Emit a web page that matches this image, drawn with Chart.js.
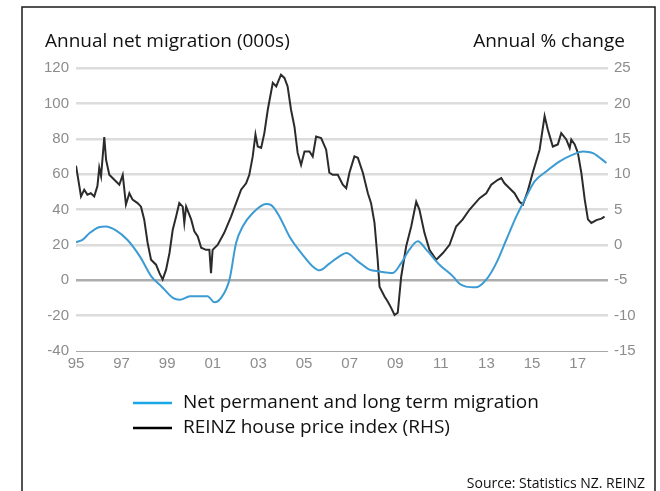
<!DOCTYPE html>
<html>
<head>
<meta charset="utf-8">
<script src="https://cdn.jsdelivr.net/npm/chart.js@4/dist/chart.umd.min.js"></script>
<style>
  html, body { margin: 0; padding: 0; background: #fff; }
  canvas { display: block; }
</style>
</head>
<body>
<canvas id="chart" width="660" height="491"></canvas>
<script>
// Net permanent and long term migration, annual (000s) – left axis
const migrationYears = [
  1995.0, 1995.3, 1995.6, 1996.0, 1996.3, 1996.75, 1997.25, 1997.8, 1998.3, 1998.75,
  1999.25, 1999.55, 2000.0, 2000.4, 2000.77, 2001.07, 2001.36, 2001.73, 2002.02, 2002.31,
  2002.75, 2003.34, 2003.56, 2003.92, 2004.36, 2004.94, 2005.38, 2005.68, 2006.11, 2006.55,
  2006.85, 2007.36, 2007.87, 2008.31, 2008.89, 2009.26, 2009.62, 2009.99, 2010.36, 2010.94,
  2011.53, 2011.82, 2012.1, 2012.55, 2012.99, 2013.43, 2013.87, 2014.31, 2014.75, 2015.11,
  2015.62, 2016.21, 2016.79, 2017.23, 2017.67, 2018.26
];
const migrationValues = [
  21.5, 23, 26.7, 30, 30.4, 28.2, 22.9, 13.5, 2.2, -3.5,
  -10, -11, -9.1, -9.1, -9, -12.5, -10, 0.3, 21, 30.4,
  38, 43.1, 42.5, 36.1, 24.8, 14.4, 7.8, 5.6, 9.4, 13.5,
  15.4, 10.7, 6, 5, 4.1, 9.7, 17.3, 22, 17.3, 8.8,
  2.2, -2, -3.6, -4, 0.3, 9.7, 22.9, 36.1, 47.4, 55.9,
  61.5, 67.2, 71, 72.8, 71.9, 66.3
];

// REINZ house price index, annual % change – right axis
const priceYears = [
  1995.0, 1995.22, 1995.36, 1995.5, 1995.65, 1995.8, 1995.94, 1996.02, 1996.1, 1996.24,
  1996.32, 1996.46, 1996.68, 1996.9, 1997.05, 1997.19, 1997.34, 1997.48, 1997.7, 1997.85,
  1997.99, 1998.14, 1998.29, 1998.51, 1998.66, 1998.8, 1998.95, 1999.1, 1999.24, 1999.39,
  1999.53, 1999.68, 1999.75, 1999.83, 2000.05, 2000.19, 2000.34, 2000.49, 2000.7, 2000.85,
  2000.92, 2000.99, 2001.21, 2001.5, 2001.8, 2002.02, 2002.24, 2002.46, 2002.6, 2002.75,
  2002.87, 2002.97, 2003.12, 2003.26, 2003.41, 2003.63, 2003.78, 2003.99, 2004.14, 2004.28,
  2004.43, 2004.58, 2004.72, 2004.87, 2005.02, 2005.24, 2005.38, 2005.53, 2005.75, 2005.97,
  2006.11, 2006.26, 2006.48, 2006.7, 2006.85, 2006.99, 2007.21, 2007.36, 2007.58, 2007.8,
  2007.94, 2008.09, 2008.23, 2008.31, 2008.53, 2008.67, 2008.82, 2008.97, 2009.11, 2009.26,
  2009.48, 2009.7, 2009.92, 2010.06, 2010.28, 2010.5, 2010.8, 2011.09, 2011.38, 2011.67,
  2011.96, 2012.26, 2012.7, 2012.99, 2013.21, 2013.5, 2013.65, 2013.79, 2014.01, 2014.23,
  2014.45, 2014.6, 2014.81, 2015.03, 2015.33, 2015.55, 2015.69, 2015.91, 2016.13, 2016.28,
  2016.5, 2016.65, 2016.72, 2016.87, 2017.01, 2017.16, 2017.31, 2017.45, 2017.6, 2017.82,
  2018.04, 2018.18
];
const priceValues = [
  11.2, 6.85, 7.8, 7.1, 7.3, 6.85, 8.3, 10.9, 9.7, 15.25,
  12.0, 9.9, 9.2, 8.5, 9.9, 5.7, 7.3, 6.4, 5.9, 5.4,
  3.6, 0.3, -2.1, -2.8, -4.0, -4.9, -3.5, -1.15, 2.1, 4.0,
  5.9, 5.4, 3.1, 5.4, 3.6, 1.9, 1.2, -0.4, -0.7, -0.7,
  -4.0, -0.7, 0.0, 1.7, 4.0, 5.9, 7.8, 8.7, 9.9, 12.5,
  15.6, 13.9, 13.7, 15.8, 19.1, 22.9, 22.4, 24.05, 23.6, 22.4,
  19.1, 16.7, 13.0, 11.3, 13.2, 13.2, 12.5, 15.3, 15.1, 13.45,
  10.2, 9.9, 9.9, 8.5, 8.0, 10.2, 12.5, 12.3, 10.2, 7.3,
  5.9, 3.1, -2.1, -5.9, -7.3, -8.0, -8.9, -9.9, -9.6, -4.5,
  -0.2, 2.6, 6.1, 5.0, 1.7, -0.7, -2.1, -1.15, 0.0, 2.6,
  3.6, 5.0, 6.6, 7.3, 8.5, 9.2, 9.45, 8.7, 8.0, 7.3,
  6.1, 5.7, 7.6, 10.2, 13.45, 18.2, 16.3, 13.9, 14.2, 15.8,
  14.9, 13.7, 14.9, 14.2, 13.0, 10.2, 6.4, 3.6, 3.1, 3.5,
  3.7, 4.0
];

// Axis ticks
const xTickYears  = [1995, 1997, 1999, 2001, 2003, 2005, 2007, 2009, 2011, 2013, 2015, 2017];
const xTickLabels = ['95', '97', '99', '01', '03', '05', '07', '09', '11', '13', '15', '17'];
const leftTicks   = [-40, -20, 0, 20, 40, 60, 80, 100, 120];
const rightTicks  = [-15, -10, -5, 0, 5, 10, 15, 20, 25];

const seriesNames = ['Net permanent and long term migration', 'REINZ house price index (RHS)'];
const leftTitle   = 'Annual net migration (000s)';
const rightTitle  = 'Annual % change';
const sourceText  = 'Source: Statistics NZ. REINZ';

const toPoints = (xs, ys) => xs.map((x, i) => ({ x, y: ys[i] }));

const TICK_FONT = { family: '"Liberation Sans", Arial, sans-serif', size: 15 };
const TICK_COLOR = '#8c8c8c';
const TEXT_FONT = '"Open Sans", "Noto Sans", sans-serif';

// Frame, axis titles, legend and source note
const decorations = {
  id: 'decorations',
  afterDraw(chart) {
    const { ctx } = chart;
    ctx.save();

    // outer frame (open at the bottom)
    ctx.strokeStyle = '#1a1a1a';
    ctx.lineWidth = 1.5;
    ctx.beginPath();
    ctx.moveTo(22, 491);
    ctx.lineTo(22, 7);
    ctx.lineTo(655, 7);
    ctx.lineTo(655, 491);
    ctx.stroke();

    // axis titles
    ctx.fillStyle = '#111';
    ctx.font = '19px ' + TEXT_FONT;
    ctx.textBaseline = 'alphabetic';
    ctx.textAlign = 'left';
    ctx.fillText(leftTitle, 45, 47);
    ctx.textAlign = 'right';
    ctx.fillText(rightTitle, 625, 47);

    // legend
    const legendColors = ['#1aa7e6', '#000000'];
    ctx.textAlign = 'left';
    ctx.textBaseline = 'middle';
    seriesNames.forEach((name, i) => {
      const y = 403 + i * 25;
      ctx.strokeStyle = legendColors[i];
      ctx.lineWidth = 2.5;
      ctx.beginPath();
      ctx.moveTo(133, y);
      ctx.lineTo(172, y);
      ctx.stroke();
      ctx.fillStyle = '#111';
      ctx.fillText(name, 183, y);
    });

    // source note
    ctx.font = '14px ' + TEXT_FONT;
    ctx.textAlign = 'right';
    ctx.textBaseline = 'alphabetic';
    ctx.fillText(sourceText, 645, 488);

    ctx.restore();
  }
};

new Chart(document.getElementById('chart'), {
  type: 'line',
  data: {
    datasets: [
      {
        label: seriesNames[0],
        data: toPoints(migrationYears, migrationValues),
        yAxisID: 'yLeft',
        borderColor: '#3c9bd2',
        borderWidth: 2,
        pointRadius: 0,
        tension: 0.4,
        cubicInterpolationMode: 'monotone'
      },
      {
        label: seriesNames[1],
        data: toPoints(priceYears, priceValues),
        yAxisID: 'yRight',
        borderColor: '#2b2b2b',
        borderWidth: 2,
        pointRadius: 0,
        tension: 0
      }
    ]
  },
  options: {
    responsive: false,
    animation: false,
    devicePixelRatio: 1,
    layout: { padding: { left: 0, right: 0, top: 68, bottom: 110 } },
    plugins: {
      legend: { display: false },
      tooltip: { enabled: false }
    },
    scales: {
      x: {
        type: 'linear',
        min: 1995,
        max: 2018.33,
        afterBuildTicks(scale) { scale.ticks = xTickYears.map(v => ({ value: v })); },
        afterFit(scale) { scale.height = 30; },
        grid: { display: false, drawTicks: false },
        border: { display: false },
        ticks: {
          autoSkip: false,
          maxRotation: 0,
          padding: 4,
          font: TICK_FONT,
          color: TICK_COLOR,
          callback: (v) => xTickLabels[xTickYears.indexOf(v)]
        }
      },
      yLeft: {
        position: 'left',
        min: -40,
        max: 120,
        afterBuildTicks(scale) { scale.ticks = leftTicks.map(v => ({ value: v })); },
        afterFit(scale) { scale.width = 76; },
        border: { display: false },
        grid: {
          drawTicks: false,
          color: (c) => c.tick.value === 0 ? '#adadad' : (c.tick.value === -40 ? '#a8a8a8' : '#dcdcdc'),
          lineWidth: (c) => c.tick.value === -40 ? 1 : 2.5
        },
        ticks: { padding: 7, font: TICK_FONT, color: TICK_COLOR }
      },
      yRight: {
        position: 'right',
        min: -15,
        max: 25,
        afterBuildTicks(scale) { scale.ticks = rightTicks.map(v => ({ value: v })); },
        afterFit(scale) { scale.width = 52; },
        border: { display: false },
        grid: { display: false, drawTicks: false },
        ticks: { padding: 6, font: TICK_FONT, color: TICK_COLOR }
      }
    }
  },
  plugins: [decorations]
});
</script>
</body>
</html>
